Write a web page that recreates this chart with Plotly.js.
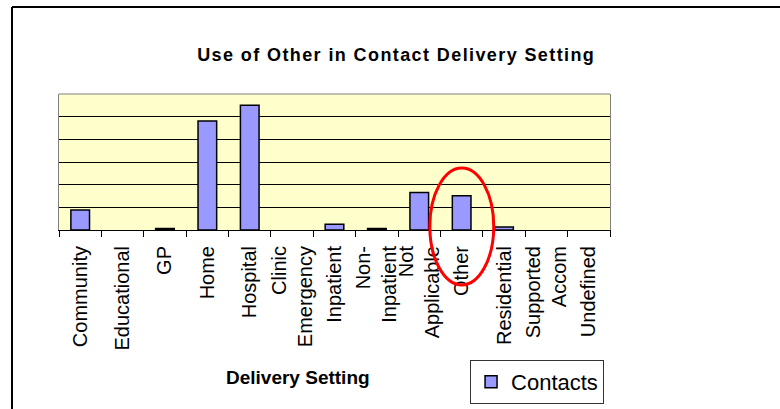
<!DOCTYPE html>
<html>
<head>
<meta charset="utf-8">
<script src="https://cdn.plot.ly/plotly-3.0.1.min.js"></script>
<style>
  html, body { margin: 0; padding: 0; background: #fff; overflow: hidden; }
  #chart { width: 780px; height: 409px; }
  .gtitle { letter-spacing: 1.4px; }
</style>
</head>
<body>
<div id="chart"></div>
<script>
// Categories (as labelled on the chart)
var categories = [
  "Community", "Educational", "GP", "Home", "Hospital",
  "Clinic<br>Emergency", "Inpatient", "Non-<br>Inpatient",
  "Not<br>Applicable", "Other", "Residential", "Supported<br>Accom", "Undefined"
];
// Contacts per delivery setting (no y scale shown; read in gridline units x1000)
var contacts = [880, 0, 70, 4810, 5500, 0, 250, 70, 1650, 1510, 130, 0, 0];
var seriesName = "Contacts";
var chartTitle = "Use of Other in Contact Delivery Setting";
var xTitle = "Delivery Setting";

// zero-height bars get no outline (as in the original)
var outlineWidths = contacts.map(function (v) { return v > 0 ? 1.5 : 0; });

var trace = {
  type: "bar",
  x: categories,
  y: contacts,
  name: seriesName,
  showlegend: true,
  marker: { color: "#9999FF", line: { color: "#000000", width: outlineWidths } },
  hoverinfo: "x+y"
};

var layout = {
  width: 780,
  height: 409,
  margin: { l: 59, r: 170, t: 94, b: 179, pad: 0, autoexpand: false },
  paper_bgcolor: "#FFFFFF",
  plot_bgcolor: "#FFFFCC",
  font: { family: "Liberation Sans, Arial, sans-serif", color: "#000000" },
  bargap: 0.56,
  title: {
    text: chartTitle,
    font: { size: 18, weight: "bold", family: "Liberation Sans, Arial, sans-serif" },
    xref: "container", yref: "container",
    x: 0.508, xanchor: "center",
    y: 0.866, yanchor: "middle"
  },
  xaxis: {
    type: "category",
    tickangle: -90,
    tickfont: { size: 20 },
    ticks: "outside",
    tickson: "boundaries",
    ticklen: 6,
    tickcolor: "#000000",
    ticklabelstandoff: 7,
    showline: true,
    linecolor: "#000000",
    linewidth: 1,
    showgrid: false,
    fixedrange: true
  },
  yaxis: {
    range: [0, 6000],
    tickvals: [1000, 2000, 3000, 4000, 5000],
    showticklabels: false,
    ticks: "",
    showgrid: true,
    gridcolor: "#000000",
    gridwidth: 1,
    zeroline: false,
    showline: true,
    linecolor: "#808080",
    linewidth: 1,
    mirror: true,
    fixedrange: true
  },
  showlegend: true,
  legend: {
    x: 0.746, xanchor: "left",
    y: -0.955, yanchor: "top",
    xref: "paper", yref: "paper",
    bgcolor: "#FFFFFF",
    bordercolor: "#333333",
    borderwidth: 1,
    font: { size: 22 }
  },
  annotations: [
    {
      text: "<b>" + xTitle + "</b>",
      xref: "paper", yref: "paper",
      x: 0.434, y: -1.081,
      xanchor: "center", yanchor: "middle",
      showarrow: false,
      font: { size: 19 }
    }
  ],
  shapes: [
    // top edge of the plot area (grey)
    { type: "line", xref: "paper", yref: "paper", x0: 0, x1: 1, y0: 1, y1: 1,
      line: { color: "#808080", width: 1 }, layer: "above" },
    // outer chart frame: left edge
    { type: "line", xref: "paper", yref: "paper",
      x0: -0.0853, x1: -0.0853, y0: -1.5, y1: 1.6397,
      line: { color: "#000000", width: 2 }, layer: "above" },
    // outer chart frame: top edge (runs off the right of the picture)
    { type: "line", xref: "paper", yref: "paper",
      x0: -0.0853, x1: 1.4, y0: 1.6397, y1: 1.6397,
      line: { color: "#000000", width: 2 }, layer: "above" },
    // red hand-drawn ellipse around "Other"
    { type: "circle", xref: "paper", yref: "paper",
      x0: 0.673, x1: 0.789, y0: -0.404, y1: 0.456,
      line: { color: "#FF0000", width: 3 }, layer: "above" }
  ]
};

Plotly.newPlot("chart", [trace], layout, { displayModeBar: false, staticPlot: true });
</script>
</body>
</html>
